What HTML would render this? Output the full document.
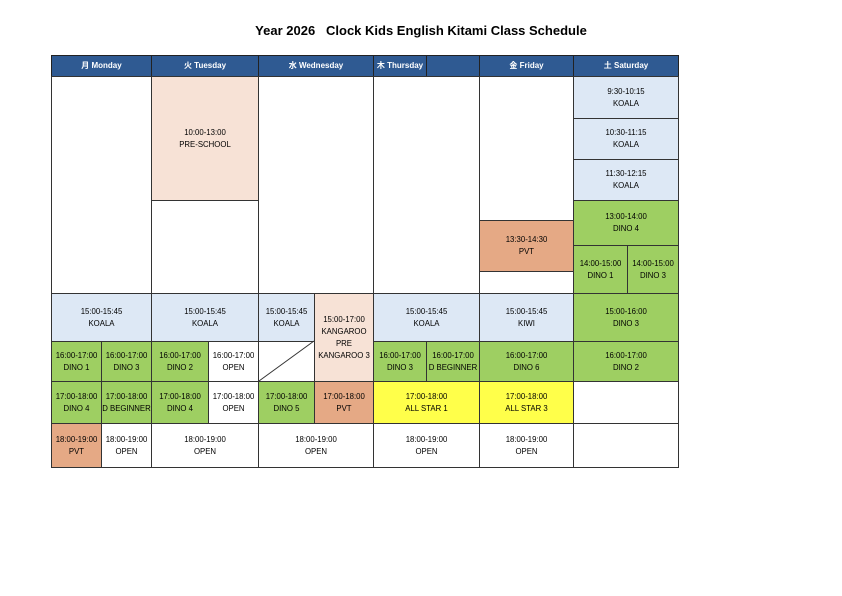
<!DOCTYPE html>
<html><head><meta charset="utf-8"><style>
body{margin:0;width:842px;height:596px;background:#fff;position:relative;overflow:hidden;font-family:"Liberation Sans","Noto Sans CJK JP",sans-serif}
.c{position:absolute;box-sizing:border-box;border:1px solid #333;display:flex;align-items:center;justify-content:center;text-align:center;font-size:7.8px;line-height:12px;color:#000;white-space:nowrap}
.h{background:#2f5a92;color:#fff;font-weight:bold;font-size:8px;border-color:#222}
.b{background:#dde8f5}.p{background:#f7e2d6}.s{background:#e5a985}.g{background:#9ecf62}.y{background:#ffff4a}
.t{position:absolute;left:0;width:842px;top:23px;text-align:center;font-weight:bold;font-size:13px}
</style></head><body>
<div class="t">Year 2026&nbsp;&nbsp;&nbsp;Clock Kids English Kitami Class Schedule</div>
<div id="r"></div>
<svg style="position:absolute;left:0;top:0" width="842" height="596"><line x1="259" y1="381" x2="314" y2="341" stroke="#333" stroke-width="1"/></svg>
<script>
var C=[
[51,55,151,76,'h','月 Monday'],[151,55,258,76,'h','火 Tuesday'],[258,55,373,76,'h','水 Wednesday'],[373,55,426,76,'h','木 Thursday'],[426,55,479,76,'h',''],[479,55,573,76,'h','金 Friday'],[573,55,678,76,'h','土 Saturday'],
[51,76,151,293,'',''],[151,76,258,200,'p','10:00-13:00<br>PRE-SCHOOL'],[151,200,258,293,'',''],[258,76,373,293,'',''],[373,76,479,293,'',''],
[479,76,573,220,'',''],[479,220,573,271,'s','13:30-14:30<br>PVT'],[479,271,573,293,'',''],
[573,76,678,118,'b','9:30-10:15<br>KOALA'],[573,118,678,159,'b','10:30-11:15<br>KOALA'],[573,159,678,200,'b','11:30-12:15<br>KOALA'],[573,200,678,245,'g','13:00-14:00<br>DINO 4'],
[573,245,627,293,'g','14:00-15:00<br>DINO 1'],[627,245,678,293,'g','14:00-15:00<br>DINO 3'],
[51,293,151,341,'b','15:00-15:45<br>KOALA'],[151,293,258,341,'b','15:00-15:45<br>KOALA'],[258,293,314,341,'b','15:00-15:45<br>KOALA'],[314,293,373,381,'p','15:00-17:00<br>KANGAROO<br>PRE<br>KANGAROO 3'],[373,293,479,341,'b','15:00-15:45<br>KOALA'],[479,293,573,341,'b','15:00-15:45<br>KIWI'],[573,293,678,341,'g','15:00-16:00<br>DINO 3'],
[51,341,101,381,'g','16:00-17:00<br>DINO 1'],[101,341,151,381,'g','16:00-17:00<br>DINO 3'],[151,341,208,381,'g','16:00-17:00<br>DINO 2'],[208,341,258,381,'','16:00-17:00<br>OPEN'],[258,341,314,381,'',''],[373,341,426,381,'g','16:00-17:00<br>DINO 3'],[426,341,479,381,'g','16:00-17:00<br>D BEGINNER'],[479,341,573,381,'g','16:00-17:00<br>DINO 6'],[573,341,678,381,'g','16:00-17:00<br>DINO 2'],
[51,381,101,423,'g','17:00-18:00<br>DINO 4'],[101,381,151,423,'g','17:00-18:00<br>D BEGINNER'],[151,381,208,423,'g','17:00-18:00<br>DINO 4'],[208,381,258,423,'','17:00-18:00<br>OPEN'],[258,381,314,423,'g','17:00-18:00<br>DINO 5'],[314,381,373,423,'s','17:00-18:00<br>PVT'],[373,381,479,423,'y','17:00-18:00<br>ALL STAR 1'],[479,381,573,423,'y','17:00-18:00<br>ALL STAR 3'],[573,381,678,423,'',''],
[51,423,101,467,'s','18:00-19:00<br>PVT'],[101,423,151,467,'','18:00-19:00<br>OPEN'],[151,423,258,467,'','18:00-19:00<br>OPEN'],[258,423,373,467,'','18:00-19:00<br>OPEN'],[373,423,479,467,'','18:00-19:00<br>OPEN'],[479,423,573,467,'','18:00-19:00<br>OPEN'],[573,423,678,467,'','']
];
var h='';C.forEach(function(a){h+='<div class="c '+a[4]+'" style="left:'+a[0]+'px;top:'+a[1]+'px;width:'+(a[2]-a[0]+1)+'px;height:'+(a[3]-a[1]+1)+'px">'+(a[4]=='h'?a[5]:'<span>'+a[5]+'</span>')+'</div>'});
document.getElementById('r').innerHTML=h;
</script>
</body></html>
